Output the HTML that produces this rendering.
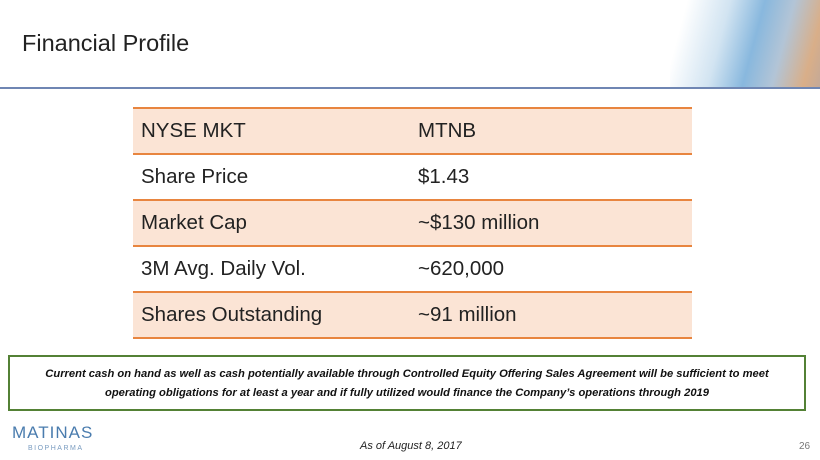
<!DOCTYPE html>
<html><head><meta charset="utf-8"><style>
body{margin:0;width:820px;height:460px;background:#fff;position:relative;overflow:hidden;font-family:"Liberation Sans",sans-serif;}
.abs{position:absolute}
#title{left:22px;top:30px;font-size:23.5px;color:#222;}
#rule{left:0;top:87px;width:820px;height:2px;background:#6f86b3;}
#banner{right:0;top:0;width:150px;height:87px;background:linear-gradient(105deg,rgba(255,255,255,1) 10%,rgba(205,225,240,.9) 35%,rgba(130,180,220,.95) 55%,rgba(170,190,210,.9) 72%,rgba(215,170,130,.95) 90%,rgba(190,160,140,.9));}
table{position:absolute;left:133px;top:107px;width:559px;border-collapse:collapse;font-size:20.5px;color:#222;}
td{height:44px;border-top:2px solid #e8853f;border-bottom:2px solid #e8853f;padding:0 0 0 8px;}
tr.s td{background:#fbe4d5;}
td.v{padding-left:0;width:274px;}
#note{left:8px;top:355px;width:798px;height:56px;border:2px solid #538135;box-sizing:border-box;text-align:center;font-size:11.2px;font-weight:bold;font-style:italic;line-height:19px;padding-top:8px;color:#111;}
#logo{left:12px;top:423px;font-size:17px;letter-spacing:1px;color:#4a7cae;}
#logo2{left:28px;top:445px;font-size:7px;letter-spacing:1.5px;color:#7a9cc0;}
#date{left:360px;top:440px;font-size:11px;font-style:italic;color:#222;}
#pg{left:799px;top:441px;font-size:10px;color:#777;}
</style></head><body>
<div class="abs" id="banner"></div>
<div class="abs" id="title">Financial Profile</div>
<div class="abs" id="rule"></div>
<table>
<tr class="s"><td>NYSE MKT</td><td class="v">MTNB</td></tr>
<tr><td>Share Price</td><td class="v">$1.43</td></tr>
<tr class="s"><td>Market Cap</td><td class="v">~$130 million</td></tr>
<tr><td>3M Avg. Daily Vol.</td><td class="v">~620,000</td></tr>
<tr class="s"><td>Shares Outstanding</td><td class="v">~91 million</td></tr>
</table>
<div class="abs" id="note">Current cash on hand as well as cash potentially available through Controlled Equity Offering Sales Agreement will be sufficient to meet<br>operating obligations for at least a year and if fully utilized would finance the Company’s operations through 2019</div>
<div class="abs" id="logo">MATINAS</div>
<div class="abs" id="logo2">BIOPHARMA</div>
<div class="abs" id="date">As of August 8, 2017</div>
<div class="abs" id="pg">26</div>
</body></html>
